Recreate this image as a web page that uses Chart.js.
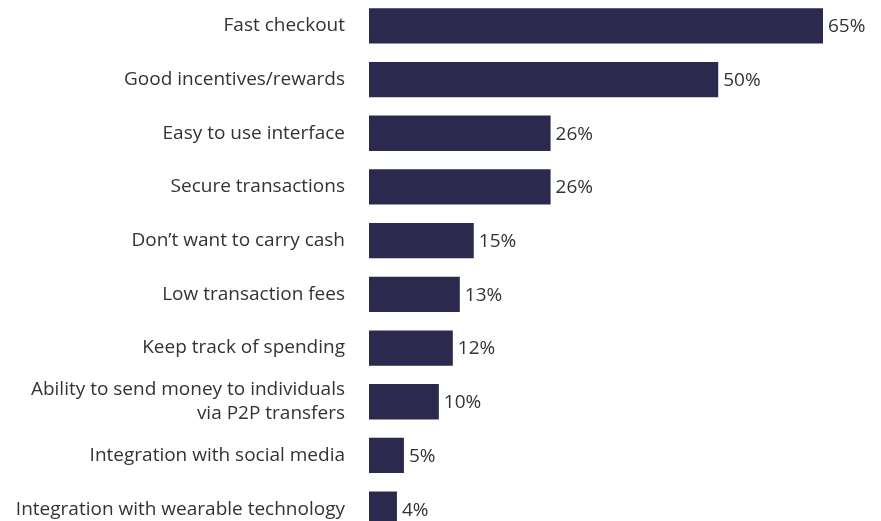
<!DOCTYPE html>
<html>
<head>
<meta charset="utf-8">
<script src="https://cdn.jsdelivr.net/npm/chart.js@4/dist/chart.umd.min.js"></script>
<style>
  html, body { margin: 0; padding: 0; background: #fff; overflow: hidden; }
  #wrap { position: absolute; left: 0; top: -1px; width: 881px; height: 537px; }
</style>
</head>
<body>
<div id="wrap"><canvas id="reasonsChart"></canvas></div>
<script>
const categories = [
  'Fast checkout',
  'Good incentives/rewards',
  'Easy to use interface',
  'Secure transactions',
  'Don\u2019t want to carry cash',
  'Low transaction fees',
  'Keep track of spending',
  ['Ability to send money to individuals', 'via P2P transfers'],
  'Integration with social media',
  'Integration with wearable technology'
];
const shares = [65, 50, 26, 26, 15, 13, 12, 10, 5, 4];

// write the % value just right of each bar
const valueLabels = {
  id: 'valueLabels',
  afterDatasetsDraw(chart) {
    const ctx = chart.ctx;
    const meta = chart.getDatasetMeta(0);
    ctx.save();
    ctx.font = '19px "Open Sans"';
    ctx.fillStyle = '#333333';
    ctx.textAlign = 'left';
    ctx.textBaseline = 'middle';
    meta.data.forEach((bar, i) => {
      ctx.fillText(shares[i] + '%', bar.x + 5, bar.y + 1);
    });
    ctx.restore();
  }
};

const ctx = document.getElementById('reasonsChart');

new Chart(ctx, {
  type: 'bar',
  data: {
    labels: categories,
    datasets: [{
      label: 'Share',
      data: shares,
      backgroundColor: '#2b2a4e',
      borderWidth: 0,
      barPercentage: 0.657,
      categoryPercentage: 1
    }]
  },
  options: {
    indexAxis: 'y',
    responsive: true,
    maintainAspectRatio: false,
    animation: false,
    layout: { padding: { left: 0, right: 58, top: 0, bottom: 0 } },
    plugins: {
      legend: { display: false },
      tooltip: { enabled: false }
    },
    scales: {
      x: {
        display: false,
        min: 0,
        max: 65
      },
      y: {
        grid: { display: false, drawTicks: false },
        border: { display: false },
        ticks: {
          padding: 24,
          color: '#333333',
          font: { family: 'Open Sans', size: 19, lineHeight: 1.26 },
          autoSkip: false
        },
        afterFit(scale) {
          scale.width = 369;
          scale.paddingTop = 0;
          scale.paddingBottom = 0;
        }
      }
    }
  },
  plugins: [valueLabels]
});
</script>
</body>
</html>
